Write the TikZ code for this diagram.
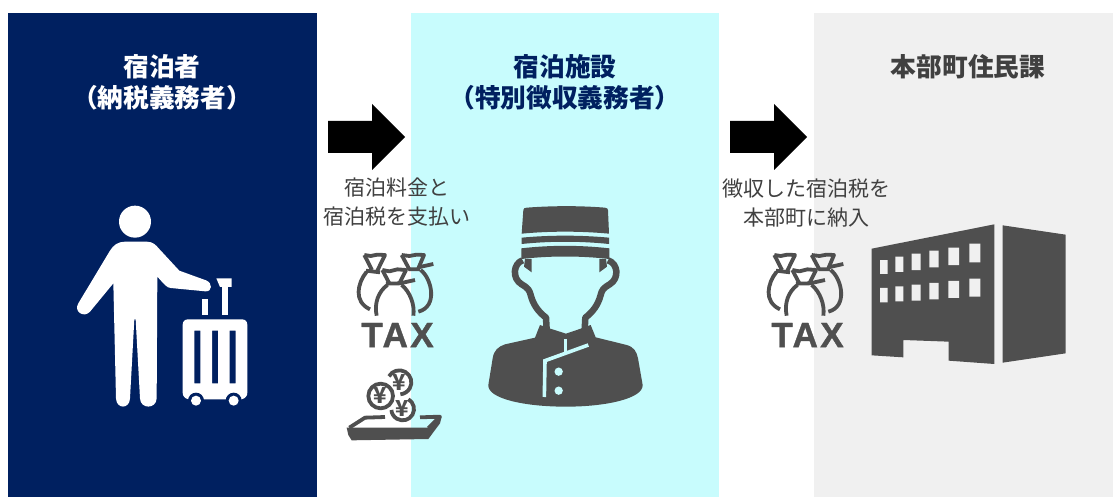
\documentclass[tikz,border=0pt]{standalone}
\usepackage{fontspec}
\setmainfont{Noto Sans CJK JP}
\newfontfamily\taxfont[LetterSpace=7, BoldFeatures={FakeBold=1.2}]{Liberation Sans}
\usepackage{tikz}
\definecolor{navypanel}{HTML}{002060}
\definecolor{cyanpanel}{HTML}{C8FCFD}
\definecolor{graypanel}{HTML}{F0F0F0}
\definecolor{icongray}{HTML}{4F4F4F}
\definecolor{textgray}{HTML}{404040}
\tikzstyle{panel}=[draw=none]
\tikzstyle{title}=[inner sep=0, font=\fontsize{25.7}{28}\selectfont\bfseries]
\tikzstyle{caption}=[inner sep=0, text=textgray, font=\fontsize{21}{25}\selectfont]
\tikzstyle{icon}=[fill=icongray, draw=none]
\tikzstyle{iconline}=[draw=icongray, fill=none, line width=3.8pt, line join=round]
\tikzstyle{blockarrow}=[fill=black, draw=none]
\tikzstyle{yen}=[inner sep=0, text=icongray, font=\fontsize{22}{22}\selectfont\bfseries]
% Bags and the word below them, drawn in zoomed pixels.
\newcommand{\taxicon}[2]{
    \begin{scope}[shift={(#1, 250)}, scale=1/3]
        \draw[iconline] (43,15) -- (62,18) -- (82,14) -- (105,15) -- (82,62);
        \draw[iconline] (43,15) -- (66,60);
        \draw[iconline] (48,62) -- (90,67);
        \draw[iconline] (50,65) .. controls (22,100) and (10,155) .. (60,178);
        \draw[iconline] (155,15) -- (178,18) -- (200,14) -- (222,15) -- (205,55);
        \draw[iconline] (155,15) -- (178,58) -- (210,58);
        \draw[iconline] (205,52) -- (250,42);
        \draw[iconline] (212,60) .. controls (245,85) and (265,170) .. (205,185);
        \draw[iconline] (97,60) -- (118,64) -- (142,58) -- (168,60) -- (148,100);
        \draw[iconline] (97,60) -- (118,100);
        \draw[iconline] (108,101) -- (150,100) -- (195,90);
        \draw[iconline] (112,105) .. controls (85,125) and (72,160) .. (80,197);
        \draw[iconline] (155,105) .. controls (180,125) and (195,165) .. (190,197);
    \end{scope}
    \node[inner sep=0, text=icongray, font=\fontsize{35}{35}\selectfont\taxfont\bfseries] (#2) at (#1+47.5, 335) {TAX};
}
\newcommand{\rightblock}[1]{
    \path[blockarrow] (#1, 121) -- (#1+44, 121) -- (#1+44, 104) -- (#1+77, 137) -- (#1+44, 170) -- (#1+44, 153) -- (#1, 153) -- cycle;
}

\begin{document}
\begin{tikzpicture}[x=1pt, y=-1pt]
        \useasboundingbox (0, 0) rectangle (1113, 497);
        \fill[white] (0, 0) rectangle (1113, 497);
        \fill[panel, navypanel] (8, 13) rectangle (317, 497);
        \fill[panel, cyanpanel] (411, 13) rectangle (719, 497);
        \fill[panel, graypanel] (814, 13) rectangle (1113, 497);

        \node[title, text=white] (guesttitle) at (162, 67) {宿泊者};
        \node[title, text=white] (guestsub) at (162, 98) {（納税義務者）};
        \node[title, text=navypanel] (hoteltitle) at (565, 67) {宿泊施設};
        \node[title, text=navypanel] (hotelsub) at (565, 98) {（特別徴収義務者）};
        \node[title, text=textgray] (towntitle) at (968, 67) {本部町住民課};

        \rightblock{328}
        \rightblock{730}

        \node[caption] (payone) at (397, 188) {宿泊料金と};
        \node[caption] (paytwo) at (397, 217) {宿泊税を支払い};
        \node[caption] (sendone) at (806, 189) {徴収した宿泊税を};
        \node[caption] (sendtwo) at (806, 218) {本部町に納入};

        % Traveller
        \begin{scope}[shift={(60, 190)}, scale=1/3, white]
            \fill (225, 95) circle (48);
            \fill (195,155) -- (260,155) .. controls (278,155) and (288,165) .. (296,175)
                -- (358,242) -- (438,271) .. controls (458,278) and (458,306) .. (436,304)
                -- (332,294) .. controls (320,293) and (315,285) .. (292,260)
                -- (290,625) .. controls (289,658) and (241,658) .. (240,625)
                -- (227,388) -- (223,388) -- (210,625) .. controls (209,658) and (169,658) .. (168,625)
                -- (160,280) -- (90,365) .. controls (72,385) and (40,365) .. (55,340)
                -- (150,182) .. controls (160,165) and (175,155) .. (195,155) -- cycle;
            \fill[even odd rule] (385,388) -- (545,388) .. controls (556,388) and (562,394) .. (562,405)
                -- (562,608) .. controls (562,618) and (556,625) .. (545,628) -- (385,628) .. controls (374,625) and (368,618) .. (368,608)
                -- (368,405) .. controls (368,394) and (374,388) .. (385,388) -- cycle
                (403,422) rectangle (421,580) (456,422) rectangle (474,580) (509,422) rectangle (527,580);
            \fill[navypanel] (408,632) circle (24) (521,632) circle (24);
            \fill (408,632) circle (15) (521,632) circle (15);
            \fill (425,326) rectangle (444,374);
            \fill (485,290) rectangle (505,374);
            \fill (469,265) -- (515,265) -- (515,291) -- (480,291) -- cycle;
        \end{scope}

        \taxicon{350}{taxleft}
        \taxicon{760}{taxright}

        % Coins on a tray
        \begin{scope}[shift={(340, 365)}, scale=1/3]
            \draw[iconline] (122,93) circle (37);
            \draw[iconline] (178,52) ++(-150:36) arc[start angle=-150, end angle=85, radius=36];
            \draw[iconline] (188,132) ++(-60:34) arc[start angle=-60, end angle=175, radius=34];
            \node[yen] (yenleft) at (122, 93) {¥};
            \node[yen] (yentop) at (178, 52) {¥};
            \node[yen] (yenlow) at (188, 130) {¥};
            \draw[iconline] (28,188) -- (75,158) -- (135,156);
            \draw[iconline] (240,157) -- (300,155) -- (265,190);
            \fill[icon] (20,188) -- (268,188) -- (305,155) -- (300,175) -- (265,222) -- (35,226) -- (25,210) -- cycle;
        \end{scope}

        % Bellhop
        \begin{scope}[shift={(480, 195)}, scale=1/3]
            \fill[icon] (130,45) .. controls (130,40) and (135,38) .. (140,38) .. controls (220,32) and (300,32) .. (375,38) .. controls (381,38) and (384,42) .. (384,46)
                -- (387,116) .. controls (300,108) and (210,108) .. (125,116) -- cycle;
            \fill[icon] (125,128) .. controls (210,120) and (300,120) .. (387,128) -- (387,147) .. controls (300,138) and (210,138) .. (125,147) -- cycle;
            \fill[icon] (124,160) .. controls (210,150) and (300,150) .. (388,160) -- (388,192) .. controls (300,182) and (210,182) .. (124,192) -- cycle;
            \fill[icon] (155,192) -- (155,232) -- (132,215) -- (135,192) -- cycle;
            \fill[icon] (358,192) -- (358,232) -- (381,215) -- (378,192) -- cycle;
            \draw[iconline, line width=6.5pt] (128,196) .. controls (100,205) and (95,250) .. (125,268) .. controls (145,280) and (148,285) .. (152,300)
                .. controls (160,330) and (175,350) .. (198,368) -- (200,405);
            \draw[iconline, line width=6.5pt] (384,196) .. controls (414,205) and (419,250) .. (389,268) .. controls (369,280) and (366,285) .. (362,300)
                .. controls (354,330) and (339,350) .. (316,368) -- (314,405);
            \fill[icon] (180,390) -- (208,400) -- (258,416) -- (305,400) -- (332,390) -- (347,427) -- (440,450) .. controls (462,456) and (470,470) .. (474,490)
                -- (488,570) .. controls (490,610) and (380,635) .. (258,635) .. controls (130,635) and (22,610) .. (25,570)
                -- (38,490) .. controls (42,465) and (55,455) .. (75,448) -- (165,428) -- cycle;
            \draw[cyanpanel, line width=3pt] (256,432) -- (256,470);
            \draw[cyanpanel, line width=3.6pt] (325,450) -- (195,497) -- (193,606);
            \fill[cyanpanel] (236,530) circle (12.5) (236,587) circle (12.5);
        \end{scope}

        % Building
        \begin{scope}[shift={(750, 210)}, scale=1/3]
            \fill[icon] (365,116) -- (733,43) -- (733,462) -- (596,452) -- (596,395) -- (460,390) -- (460,442) -- (365,436) -- cycle;
            \fill[icon] (758,46) -- (947,74) -- (947,430) -- (758,458) -- cycle;
            \fill[graypanel] (390,150) rectangle (413,192) (436,140) rectangle (460,186) (485,131) rectangle (512,180)
                (538,122) rectangle (566,172) (595,113) rectangle (627,165) (658,101) rectangle (691,157)
                (390,234) rectangle (413,277) (436,229) rectangle (460,274) (485,224) rectangle (512,272)
                (538,219) rectangle (566,268) (595,213) rectangle (627,264) (658,206) rectangle (691,260);
        \end{scope}
    \end{tikzpicture}
\end{document}
